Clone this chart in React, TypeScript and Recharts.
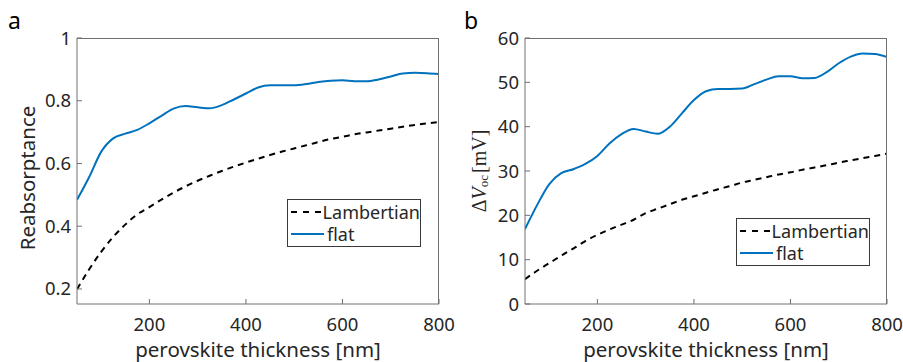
import React from "react";
import { LineChart, Line, XAxis, YAxis, Label } from "recharts";

// perovskite thickness [nm]
const thickness = [
  50, 75, 100, 125, 150, 175, 200, 225, 250, 275, 300, 325, 350, 375, 400, 425,
  450, 475, 500, 525, 550, 575, 600, 625, 650, 675, 700, 725, 750, 775, 800,
];

// panel a: reabsorptance
const reabsFlat = [
  0.484, 0.556, 0.637, 0.68, 0.695, 0.707, 0.728, 0.752, 0.775, 0.783, 0.779,
  0.776, 0.786, 0.804, 0.823, 0.842, 0.849, 0.849, 0.849, 0.853, 0.86, 0.864,
  0.865, 0.862, 0.862, 0.868, 0.877, 0.887, 0.889, 0.888, 0.885,
];
const reabsLambertian = [
  0.199, 0.262, 0.318, 0.366, 0.405, 0.438, 0.461, 0.485, 0.507, 0.527, 0.545,
  0.561, 0.576, 0.59, 0.603, 0.615, 0.627, 0.638, 0.648, 0.658, 0.668, 0.678,
  0.685, 0.693, 0.699, 0.705, 0.711, 0.717, 0.723, 0.728, 0.732,
];

// panel b: ΔVoc [mV]
const dvocFlat = [
  16.9, 22.3, 27.0, 29.5, 30.4, 31.6, 33.4, 36.2, 38.3, 39.5, 38.9, 38.4, 40.0,
  43.0, 46.0, 48.0, 48.5, 48.5, 48.6, 49.6, 50.6, 51.4, 51.4, 50.9, 51.0, 52.3,
  54.3, 55.8, 56.5, 56.4, 55.7,
];
const dvocLambertian = [
  5.6, 7.5, 9.2, 10.9, 12.5, 14.2, 15.6, 16.8, 17.9, 19.0, 20.5, 21.5, 22.5,
  23.5, 24.3, 25.1, 25.9, 26.6, 27.4, 28.0, 28.6, 29.2, 29.7, 30.3, 30.8, 31.3,
  31.9, 32.4, 32.9, 33.4, 33.9,
];

const xTicks = [200, 400, 600, 800];
const yTicksA = [0.2, 0.4, 0.6, 0.8, 1];
const yTicksB = [0, 10, 20, 30, 40, 50, 60];
const X_DOMAIN: [number, number] = [50, 800];

const FONT = "'Noto Sans', 'Open Sans', sans-serif";
const TXT = "#262626";
const AXIS = "#707070";
const BLUE = "#0072BD";
const TICK_LEN = 5;
const CHART_H = 362;
const TOP = 38;
const X_AXIS_H = 58;

const dataA = thickness.map((t, i) => ({ t, flat: reabsFlat[i], lamb: reabsLambertian[i] }));
const dataB = thickness.map((t, i) => ({ t, flat: dvocFlat[i], lamb: dvocLambertian[i] }));

// MATLAB-style inward ticks
const BottomTick = (p: any) => (
  <g>
    <line x1={p.x} y1={p.y} x2={p.x} y2={p.y - TICK_LEN} stroke={AXIS} />
    <text x={p.x} y={p.y + 27} textAnchor="middle" fontSize={18.5} fill={TXT} fontFamily={FONT}>
      {p.payload.value}
    </text>
  </g>
);
const LeftTick = (p: any) => (
  <g>
    <line x1={p.x} y1={p.y} x2={p.x + TICK_LEN} y2={p.y} stroke={AXIS} />
    <text x={p.x - 6} y={p.y} dy={6.5} textAnchor="end" fontSize={18.5} fill={TXT} fontFamily={FONT}>
      {p.payload.value}
    </text>
  </g>
);

const XTitle = ({ viewBox }: any) => (
  <text
    x={viewBox.x + viewBox.width / 2}
    y={viewBox.y + 53}
    textAnchor="middle"
    fontSize={20.5}
    fill={TXT}
    fontFamily={FONT}
  >
    perovskite thickness [nm]
  </text>
);

const LegendBox = ({ left, top }: { left: number; top: number }) => (
  <div
    style={{
      position: "absolute",
      left,
      top,
      width: 132,
      height: 45,
      border: "1px solid #3a3a3a",
      background: "#fff",
      fontFamily: FONT,
      fontSize: 18,
      color: TXT,
      lineHeight: "22px",
      paddingTop: 1,
    }}
  >
    <div style={{ display: "flex", alignItems: "center" }}>
      <svg width={39} height={22}>
        <line x1={3} y1={11} x2={36} y2={11} stroke="#000" strokeWidth={2} strokeDasharray="6 6" />
      </svg>
      <span>Lambertian</span>
    </div>
    <div style={{ display: "flex", alignItems: "center" }}>
      <svg width={39} height={22}>
        <line x1={3} y1={11} x2={36} y2={11} stroke={BLUE} strokeWidth={2} />
      </svg>
      <span>flat</span>
    </div>
  </div>
);

function Panel({
  data,
  width,
  yWidth,
  marginRight,
  yDomain,
  yTicks,
  yTitle,
  legendPos,
}: {
  data: any[];
  width: number;
  yWidth: number;
  marginRight: number;
  yDomain: [number, number];
  yTicks: number[];
  yTitle: (props: any) => React.ReactElement;
  legendPos: { left: number; top: number };
}) {
  return (
    <div style={{ position: "relative", width, height: CHART_H }}>
      <LineChart
        width={width}
        height={CHART_H}
        data={data}
        margin={{ top: TOP, right: marginRight, bottom: 0, left: 0 }}
      >
        <XAxis
          dataKey="t"
          type="number"
          domain={X_DOMAIN}
          ticks={xTicks}
          allowDataOverflow
          height={X_AXIS_H}
          stroke={AXIS}
          tickSize={0}
          tickMargin={0}
          tickLine={false}
          tick={BottomTick}
          interval={0}
        >
          <Label content={XTitle} />
        </XAxis>
        <YAxis
          type="number"
          domain={yDomain}
          ticks={yTicks}
          allowDataOverflow
          width={yWidth}
          stroke={AXIS}
          tickSize={0}
          tickMargin={0}
          tickLine={false}
          tick={LeftTick}
          interval={0}
        >
          <Label content={yTitle} />
        </YAxis>
        <Line
          dataKey="lamb"
          name="Lambertian"
          type="monotone"
          stroke="#000"
          strokeWidth={2}
          strokeDasharray="6 5"
          dot={false}
          isAnimationActive={false}
        />
        <Line
          dataKey="flat"
          name="flat"
          type="monotone"
          stroke={BLUE}
          strokeWidth={2}
          dot={false}
          isAnimationActive={false}
        />
      </LineChart>
      {/* top and right edges of the axes box */}
      <div
        style={{
          position: "absolute",
          left: yWidth,
          top: TOP - 0.5,
          width: width - yWidth - marginRight,
          height: CHART_H - TOP - X_AXIS_H,
          borderTop: `1px solid ${AXIS}`,
          borderRight: `1px solid ${AXIS}`,
          boxSizing: "border-box",
          pointerEvents: "none",
        }}
      />
      <LegendBox left={legendPos.left} top={legendPos.top} />
    </div>
  );
}

const TitleA = ({ viewBox }: any) => {
  const cx = 27;
  const cy = viewBox.y + viewBox.height / 2 + 7;
  return (
    <text
      x={cx}
      y={cy}
      transform={`rotate(-90 ${cx} ${cy})`}
      textAnchor="middle"
      dominantBaseline="central"
      fontSize={20.5}
      fill={TXT}
      fontFamily={FONT}
    >
      Reabsorptance
    </text>
  );
};

const TitleB = ({ viewBox }: any) => {
  const cx = 29;
  const cy = viewBox.y + viewBox.height / 2;
  return (
    <text
      x={cx}
      y={cy}
      transform={`rotate(-90 ${cx} ${cy})`}
      textAnchor="middle"
      dominantBaseline="central"
      fontSize={20}
      fill={TXT}
      fontFamily="'Liberation Serif', 'DejaVu Serif', serif"
    >
      <tspan>Δ</tspan>
      <tspan fontStyle="italic">V</tspan>
      <tspan fontSize={13} dy={4}>oc</tspan>
      <tspan dy={-4} dx={2}>[mV]</tspan>
    </text>
  );
};

export default function App() {
  return (
    <div
      style={{
        position: "absolute",
        left: 0,
        top: 0,
        width: 903,
        height: 362,
        background: "#fff",
        fontFamily: FONT,
      }}
    >
      <div style={{ position: "absolute", left: 0, top: 0 }}>
        <Panel
          data={dataA}
          width={460}
          yWidth={77}
          marginRight={21}
          yDomain={[0.152, 1]}
          yTicks={yTicksA}
          yTitle={TitleA}
          legendPos={{ left: 287, top: 199 }}
        />
      </div>
      <div style={{ position: "absolute", left: 450, top: 0 }}>
        <Panel
          data={dataB}
          width={453}
          yWidth={75}
          marginRight={16}
          yDomain={[0, 60]}
          yTicks={yTicksB}
          yTitle={TitleB}
          legendPos={{ left: 286, top: 218 }}
        />
      </div>
      <div style={{ position: "absolute", left: 8, top: 4, fontSize: 23, color: "#000" }}>a</div>
      <div style={{ position: "absolute", left: 464, top: 4, fontSize: 23, color: "#000" }}>b</div>
    </div>
  );
}
